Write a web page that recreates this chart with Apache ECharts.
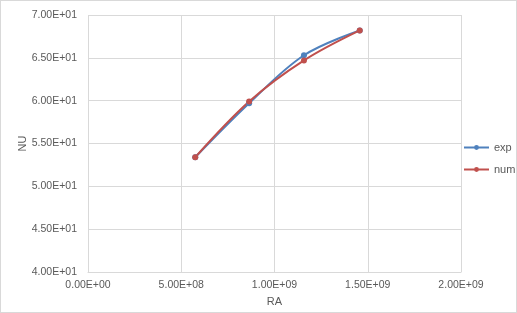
<!DOCTYPE html>
<html><head><meta charset="utf-8">
<script src="https://cdn.jsdelivr.net/npm/echarts@6/dist/echarts.min.js"></script>
<style>html,body{margin:0;padding:0;background:#fff}#c{width:517px;height:313px;box-sizing:border-box;border:1px solid #d9d9d9}</style>
</head><body><div id="c"></div>
<script>
var ra = [5.75e8, 8.64e8, 1.158e9, 1.457e9];
var expNu = [53.4, 59.7, 65.3, 68.2];
var numNu = [53.4, 59.9, 64.7, 68.2];
var seriesNames = ['exp', 'num'];

function sci(v){
  if (v === 0) return '0.00E+00';
  var e = Math.floor(Math.log10(Math.abs(v)) + 1e-9);
  var m = v / Math.pow(10, e);
  var s = e < 0 ? '-' : '+';
  var a = Math.abs(e);
  return m.toFixed(2) + 'E' + s + (a < 10 ? '0' + a : a);
}
function pairs(xs, ys){ return xs.map(function(x,i){return [x, ys[i]];}); }

var font = 'Liberation Sans';
var chart = echarts.init(document.getElementById('c'));
chart.setOption({
  animation: false,
  grid: {left: 87, right: 55, top: 14, bottom: 37, containLabel: false},
  legend: {
    orient: 'vertical', left: 462, top: 141, itemGap: 11, padding: 0,
    itemWidth: 25, itemHeight: 6,
    textStyle: {fontFamily: font, fontSize: 11, color: '#595959'},
    data: seriesNames
  },
  xAxis: {
    type: 'value', min: 0, max: 2e9, interval: 5e8,
    name: 'RA', nameLocation: 'middle', nameGap: 21,
    nameTextStyle: {fontFamily: font, fontSize: 11, color: '#595959'},
    axisLine: {show: true, lineStyle: {color: '#d9d9d9'}},
    axisTick: {show: false},
    axisLabel: {formatter: sci, fontFamily: font, fontSize: 10.5, color: '#595959', margin: 8},
    splitLine: {show: true, lineStyle: {color: '#d9d9d9'}}
  },
  yAxis: {
    type: 'value', min: 40, max: 70, interval: 5,
    name: 'NU', nameLocation: 'middle', nameGap: 60, nameRotate: 90, nameMoveOverlap: false,
    nameTextStyle: {fontFamily: font, fontSize: 11, color: '#595959'},
    axisLine: {show: false},
    axisTick: {show: false},
    axisLabel: {formatter: sci, fontFamily: font, fontSize: 10.5, color: '#595959', margin: 11},
    splitLine: {show: true, lineStyle: {color: '#d9d9d9'}}
  },
  series: [
    {name: 'exp', type: 'line', smooth: 0.35, data: pairs(ra, expNu),
     symbol: 'circle', symbolSize: 6, itemStyle: {color: '#4F81BD'}, lineStyle: {width: 2, color: '#4F81BD'}},
    {name: 'num', type: 'line', smooth: 0.35, data: pairs(ra, numNu),
     symbol: 'circle', symbolSize: 6, itemStyle: {color: '#C0504D'}, lineStyle: {width: 2, color: '#C0504D'}}
  ]
});
</script></body></html>
